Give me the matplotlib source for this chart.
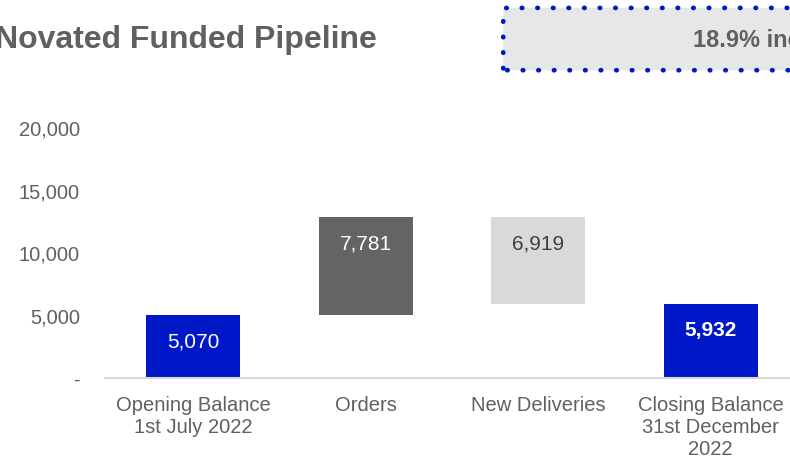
import matplotlib.pyplot as plt
from matplotlib.patches import FancyBboxPatch

plt.rcParams["font.family"] = ["Liberation Sans", "DejaVu Sans"]

# Novated funded pipeline movement, 1 Jul 2022 to 31 Dec 2022
categories = ["Opening Balance\n1st July 2022", "Orders", "New Deliveries",
              "Closing Balance\n31st December\n2022"]
opening = 5070
orders = 7781
deliveries = 6919
closing = 5932
value_labels = ["5,070", "7,781", "6,919", "5,932"]
y_ticks = [0, 5000, 10000, 15000, 20000]
y_tick_labels = ["-", "5,000", "10,000", "15,000", "20,000"]

BLUE = "#0018c8"
DARK = "#636466"
LIGHT = "#d9d9d9"
TEXT = "#5f6062"

# waterfall: floating bars for the movements
bottoms = [0, opening, opening + orders - deliveries, 0]
heights = [opening, orders, deliveries, closing]
colors = [BLUE, DARK, LIGHT, BLUE]

fig = plt.figure(figsize=(7.9, 4.65), dpi=100)
ax = fig.add_axes([0.133, 0.187, 0.878, 0.5376])

x = range(len(categories))
ax.bar(x, heights, bottom=bottoms, width=0.545, color=colors, zorder=2)

label_colors = ["white", "white", "#404040", "white"]
label_weights = ["normal", "normal", "normal", "bold"]
for i in x:
    top = bottoms[i] + heights[i]
    ax.text(i, top - 2150, value_labels[i], ha="center", va="center",
            fontsize=15, color=label_colors[i], fontweight=label_weights[i])

ax.set_xlim(-0.51, 3.51)
ax.set_ylim(0, 20000)
ax.set_yticks(y_ticks)
ax.set_yticklabels(y_tick_labels)
ax.set_xticks(list(x))
ax.set_xticklabels(categories)
ax.tick_params(axis="both", length=0, labelsize=14.5, colors=TEXT)
ax.tick_params(axis="y", pad=18)
ax.tick_params(axis="x", pad=13)
for side in ["top", "right", "left"]:
    ax.spines[side].set_visible(False)
ax.spines["bottom"].set_color(LIGHT)
ax.spines["bottom"].set_linewidth(1.5)

fig.text(-0.006, 0.913, "Novated Funded Pipeline", fontsize=23,
         fontweight="bold", color=TEXT, va="center", ha="left")

# callout box with dotted border
box = FancyBboxPatch((0.637, 0.849), 0.45, 0.134,
                     boxstyle="round,pad=0,rounding_size=0.005",
                     transform=fig.transFigure, facecolor="#e6e7e9",
                     edgecolor=BLUE, linestyle=(0, (0.1, 3.2)),
                     linewidth=3.4, capstyle="round")
fig.patches.append(box)
fig.text(0.877, 0.913, "18.9% increase", fontsize=17, fontweight="bold",
         color=TEXT, va="center", ha="left")

fig.savefig("out.png", dpi=100)
